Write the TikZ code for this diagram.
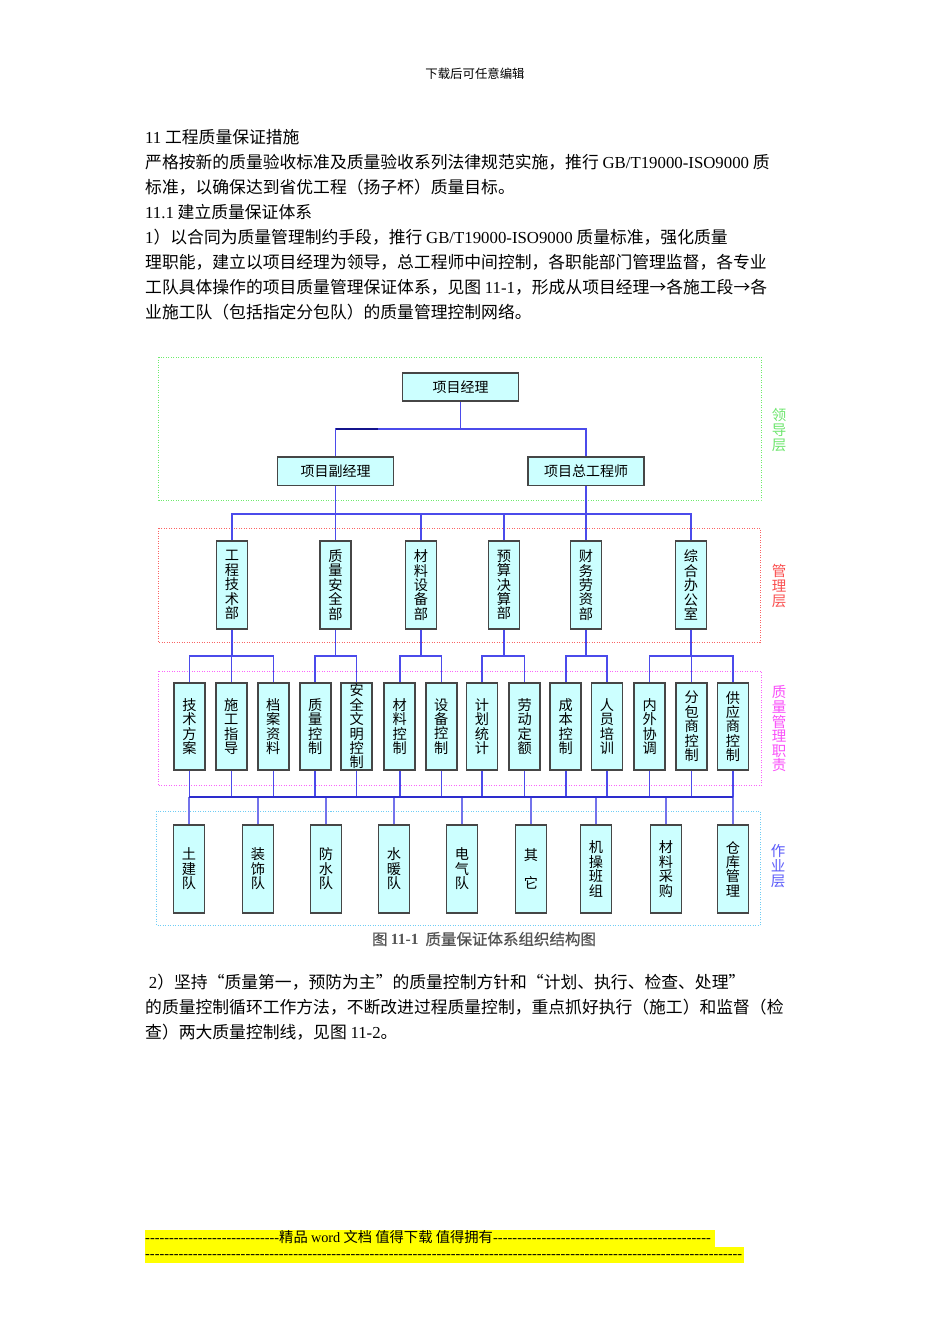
\documentclass[tikz,border=0pt]{standalone}
\usepackage{fontspec}
\setmainfont{Noto Sans CJK SC}
\newfontfamily\lat{Liberation Serif}
\newfontfamily\capcjk[FakeBold=0.8]{Noto Sans CJK SC}
\definecolor{boxfill}{RGB}{204,255,255}
\definecolor{boxline}{RGB}{70,70,70}
\definecolor{connblue}{RGB}{75,75,235}
\definecolor{connlight}{RGB}{115,115,235}
\definecolor{conndark}{RGB}{20,20,140}
\definecolor{connbus}{RGB}{45,45,205}
\definecolor{greenf}{RGB}{110,235,110}
\definecolor{redf}{RGB}{250,100,100}
\definecolor{magf}{RGB}{250,100,250}
\definecolor{cyanf}{RGB}{110,205,245}
\definecolor{greenlab}{RGB}{110,230,110}
\definecolor{redlab}{RGB}{250,80,80}
\definecolor{maglab}{RGB}{250,80,250}
\definecolor{bluelab}{RGB}{90,90,250}
\definecolor{capgray}{RGB}{85,85,85}
\definecolor{footy}{RGB}{255,255,0}
\begin{document}
\begin{tikzpicture}[x=1pt,y=-1pt,
  body/.style={anchor=base west, inner sep=0, font=\fontsize{16.8}{20}\selectfont},
  hbox/.style={draw=boxline, fill=boxfill, line width=1.8pt, minimum width=116pt, minimum height=28.5pt, inner sep=0, font=\fontsize{14}{16}\selectfont},
  vbox/.style={draw=boxline, fill=boxfill, line width=1.8pt, minimum width=31pt, minimum height=87pt, inner sep=0, align=center, font=\fontsize{14.2}{14.4}\selectfont},
  conn/.style={draw=connblue, line width=1.5pt},
  frame/.style={dash pattern=on 1pt off 1.5pt, line width=1pt},
  side/.style={align=center, inner sep=0, font=\fontsize{14.5}{14.6}\selectfont},
  foot/.style={anchor=base west, inner sep=0, font=\fontsize{14.3}{16}\selectfont},
]
\useasboundingbox (0,0) rectangle (950,1344);
\fill[white] (0,0) rectangle (950,1344);

% header
\node[font=\fontsize{12.4}{14}\selectfont, inner sep=0] (hdr) at (475,74) {下载后可任意编辑};

% body text
\node[body] (t1) at (145,143) {{\lat 11} 工程质量保证措施};
\node[body] (t2) at (145,168) {严格按新的质量验收标准及质量验收系列法律规范实施，推行 {\lat GB/T19000-ISO9000} 质};
\node[body] (t3) at (145,193) {标准，以确保达到省优工程（扬子杯）质量目标。};
\node[body] (t4) at (145,218) {{\lat 11.1} 建立质量保证体系};
\node[body] (t5) at (145,243) {{\lat 1}）以合同为质量管理制约手段，推行 {\lat GB/T19000-ISO9000} 质量标准，强化质量};
\node[body] (t6) at (145,268) {理职能，建立以项目经理为领导，总工程师中间控制，各职能部门管理监督，各专业};
\node[body] (t7) at (145,293) {工队具体操作的项目质量管理保证体系，见图 {\lat 11-1}，形成从项目经理→各施工段→各};
\node[body] (t8) at (145,318) {业施工队（包括指定分包队）的质量管理控制网络。};

% layer frames
\draw[frame, draw=greenf] (158.5,357) rectangle (761,500);
\draw[frame, draw=redf] (158,528) rectangle (760,642);
\draw[frame, draw=magf] (158,671) rectangle (761,785.5);
\draw[frame, draw=cyanf] (156.5,811) rectangle (760,925);

% side labels
\node[side, text=greenlab] (l1) at (779,430) {领\\导\\层};
\node[side, text=redlab] (l2) at (779,586) {管\\理\\层};
\node[side, text=maglab] (l3) at (779,729) {质\\量\\管\\理\\职\\责};
\node[side, text=bluelab] (l4) at (778,866) {作\\业\\层};

% leadership
\node[hbox] (pm) at (460.5,387) {项目经理};
\node[hbox] (dpm) at (335.5,471.3) {项目副经理};
\node[hbox] (ce) at (586,471.3) {项目总工程师};

% management
\node[vbox, minimum height=88pt] (m1) at (232,585) {工\\程\\技\\术\\部};
\node[vbox, minimum height=88pt] (m2) at (335.5,585) {质\\量\\安\\全\\部};
\node[vbox, minimum height=88pt] (m3) at (421,585) {材\\料\\设\\备\\部};
\node[vbox, minimum height=88pt] (m4) at (504,585) {预\\算\\决\\算\\部};
\node[vbox, minimum height=88pt] (m5) at (586,585) {财\\务\\劳\\资\\部};
\node[vbox, minimum height=88pt] (m6) at (691,585) {综\\合\\办\\公\\室};

% quality duties
\node[vbox] (q1) at (189.4,726.5) {技\\术\\方\\案};
\node[vbox] (q2) at (231.3,726.5) {施\\工\\指\\导};
\node[vbox] (q3) at (273.3,726.5) {档\\案\\资\\料};
\node[vbox] (q4) at (315.2,726.5) {质\\量\\控\\制};
\node[vbox] (q5) at (356.7,726.5) {安\\全\\文\\明\\控\\制};
\node[vbox] (q6) at (399.8,726.5) {材\\料\\控\\制};
\node[vbox] (q7) at (441.3,726.5) {设\\备\\控\\制};
\node[vbox] (q8) at (482,726.5) {计\\划\\统\\计};
\node[vbox] (q9) at (524.7,726.5) {劳\\动\\定\\额};
\node[vbox] (q10) at (565.8,726.5) {成\\本\\控\\制};
\node[vbox] (q11) at (606.9,726.5) {人\\员\\培\\训};
\node[vbox] (q12) at (649.7,726.5) {内\\外\\协\\调};
\node[vbox] (q13) at (691.6,726.5) {分\\包\\商\\控\\制};
\node[vbox] (q14) at (733,726.5) {供\\应\\商\\控\\制};

% work teams
\node[vbox, minimum height=88pt] (w1) at (189,869) {土\\建\\队};
\node[vbox, minimum height=88pt] (w2) at (258,869) {装\\饰\\队};
\node[vbox, minimum height=88pt] (w3) at (326,869) {防\\水\\队};
\node[vbox, minimum height=88pt] (w4) at (394,869) {水\\暖\\队};
\node[vbox, minimum height=88pt] (w5) at (462,869) {电\\气\\队};
\node[vbox, minimum height=88pt] (w6) at (531,869) {其\\[14.4pt]它};
\node[vbox, minimum height=88pt] (w7) at (596,869) {机\\操\\班\\组};
\node[vbox, minimum height=88pt] (w8) at (666,869) {材\\料\\采\\购};
\node[vbox, minimum height=88pt] (w9) at (733,869) {仓\\库\\管\\理};

% connectors: leadership
\draw[conn] (pm.south) -- (pm.south |- 0,429);
\draw[conn] (dpm.north) -- (dpm.north |- 0,429) -- (ce.north |- 0,429) -- (ce.north);
\draw[conn, draw=conndark] (dpm.north |- 0,429) -- ++(42,0);
\draw[conn] (dpm.south) -- (dpm.south |- 0,514);
\draw[conn] (ce.south) -- (ce.south |- 0,514);
% management bus
\draw[conn] (m1.north) -- (m1.north |- 0,514) -- (m6.north |- 0,514) -- (m6.north);
\foreach \n in {m2,m3,m4,m5} \draw[conn] (\n.north) -- (\n.north |- 0,514);
% management to duties
\foreach \n in {m1,m2,m3,m4,m5,m6} \draw[conn] (\n.south) -- (\n.south |- 0,656);
\draw[conn] (q1.north) -- (q1.north |- 0,656) -- (q3.north |- 0,656) -- (q3.north);
\draw[conn] (q2.north) -- (q2.north |- 0,656);
\draw[conn] (q4.north) -- (q4.north |- 0,656) -- (q5.north |- 0,656) -- (q5.north);
\draw[conn] (q6.north) -- (q6.north |- 0,656) -- (q7.north |- 0,656) -- (q7.north);
\draw[conn] (q8.north) -- (q8.north |- 0,656) -- (q9.north |- 0,656) -- (q9.north);
\draw[conn] (q10.north) -- (q10.north |- 0,656) -- (q11.north |- 0,656) -- (q11.north);
\draw[conn] (q12.north) -- (q12.north |- 0,656) -- (q14.north |- 0,656) -- (q14.north);
\draw[conn] (q13.north) -- (q13.north |- 0,656);
% duties to teams
\foreach \i in {1,...,14} \draw[conn] (q\i.south) -- (q\i.south |- 0,797);
\foreach \i in {1,...,9} \draw[conn, draw=connlight] (w\i.north) -- (w\i.north |- 0,797);
\draw[conn, draw=connbus] (q1.south |- 0,797) -- (q14.south |- 0,797);

% caption
\node[inner sep=0, text=capgray, font=\fontsize{15.5}{18}\capcjk] (cap) at (484,939) {图 {\lat\bfseries 11-1}\ \ 质量保证体系组织结构图};

% text after diagram
\node[body] (b1) at (145,988) {\ {\lat 2}）坚持“质量第一，预防为主”的质量控制方针和“计划、执行、检查、处理”};
\node[body] (b2) at (145,1013) {的质量控制循环工作方法，不断改进过程质量控制，重点抓好执行（施工）和监督（检};
\node[body] (b3) at (145,1038) {查）两大质量控制线，见图 {\lat 11-2}。};

% footer
\fill[footy] (145,1230) rectangle (715,1246.5);
\fill[footy] (145,1246.5) rectangle (744,1262.5);
\node[foot] (f1) at (145,1242.8) {{\lat\hbox to 134pt{\xleaders\hbox{-}\hfill}}精品 {\lat word} 文档 值得下载 值得拥有{\lat\hbox to 218pt{\xleaders\hbox{-}\hfill}}};
\node[foot] (f2) at (145,1258.6) {{\lat\hbox to 597pt{\xleaders\hbox{-}\hfill}}};
\end{tikzpicture}
\end{document}
